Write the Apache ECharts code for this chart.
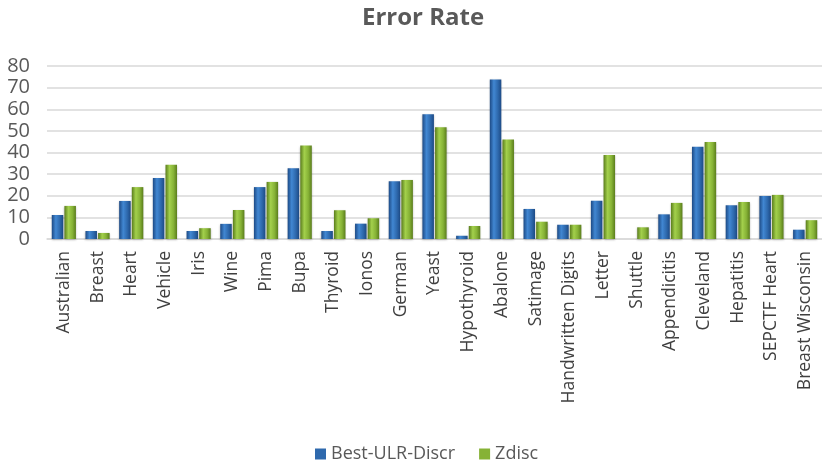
<!DOCTYPE html>
<html><head><meta charset="utf-8">
<script src="https://cdn.jsdelivr.net/npm/echarts@6/dist/echarts.min.js"></script>
<style>html,body{margin:0;padding:0;background:#fff}#c{width:822px;height:469px}</style>
</head><body><div id="c"></div>
<script>
var categories = ["Australian","Breast","Heart","Vehicle","Iris","Wine","Pima","Bupa","Thyroid","Ionos","German","Yeast","Hypothyroid","Abalone","Satimage","Handwritten Digits","Letter","Shuttle","Appendicitis","Cleveland","Hepatitis","SEPCTF Heart","Breast Wisconsin"];
var bestUlrDiscr = [11.1,3.7,17.6,28.2,3.7,7.0,24.0,32.7,3.7,7.1,26.7,57.7,1.5,73.8,13.9,6.6,17.7,0,11.4,42.7,15.6,19.9,4.3];
var zdisc = [15.3,2.8,24.0,34.3,5.0,13.4,26.4,43.2,13.3,9.6,27.3,51.7,6.0,46.0,8.0,6.6,38.9,5.4,16.7,44.9,17.1,20.4,8.7];
var seriesNames = ["Best-ULR-Discr","Zdisc"];
var yTicks = [0,10,20,30,40,50,60,70,80];

function grad(dark, mid, light) {
  return new echarts.graphic.LinearGradient(0,0,1,0,[
    {offset:0,color:dark},{offset:0.35,color:light},{offset:0.7,color:mid},{offset:1,color:dark}
  ]);
}
var blue = grad('#1d4a85','#2e69ad','#4187d2');
var green = grad('#5a7d1c','#86b236','#a3d04c');

var chart = echarts.init(document.getElementById('c'), null, {renderer:'canvas'});
chart.setOption({
  animation:false,
  backgroundColor:'#fff',
  title:{text:'Error Rate',left:357,top:1,textStyle:{fontFamily:'Open Sans',fontWeight:'bold',fontSize:24,color:'#595959'}},
  legend:{bottom:1,left:310,itemWidth:11,itemHeight:11,itemGap:24,icon:'rect',
    textStyle:{fontFamily:'Open Sans',fontSize:18,color:'#595959'},
    data:[{name:seriesNames[0],itemStyle:{color:'#2e69ad'}},{name:seriesNames[1],itemStyle:{color:'#86b236'}}]},
  grid:{left:47,right:-4,top:66,bottom:230,containLabel:false},
  xAxis:{type:'category',data:categories,
    axisLine:{show:true,lineStyle:{color:'#d9d9d9',width:1.5}},
    axisTick:{show:false},
    axisLabel:{rotate:90,interval:0,margin:12,fontFamily:'Open Sans',fontSize:17.5,color:'#404040'}},
  yAxis:{type:'value',min:0,max:80,interval:10,
    axisLine:{show:false},axisTick:{show:false},
    splitLine:{lineStyle:{color:'#d9d9d9',width:1.5}},
    axisLabel:{margin:17,fontFamily:'Open Sans',fontSize:20,color:'#595959',
      formatter:function(v){return yTicks.indexOf(v)>=0?String(v):'';}}},
  series:[
    {name:seriesNames[0],type:'bar',data:bestUlrDiscr,barWidth:11.5,barGap:'10%',
      itemStyle:{color:blue,shadowColor:'rgba(0,0,0,0.25)',shadowBlur:2,shadowOffsetY:1}},
    {name:seriesNames[1],type:'bar',data:zdisc,barWidth:11.5,
      itemStyle:{color:green,shadowColor:'rgba(0,0,0,0.25)',shadowBlur:2,shadowOffsetY:1}}
  ]
});
</script></body></html>
